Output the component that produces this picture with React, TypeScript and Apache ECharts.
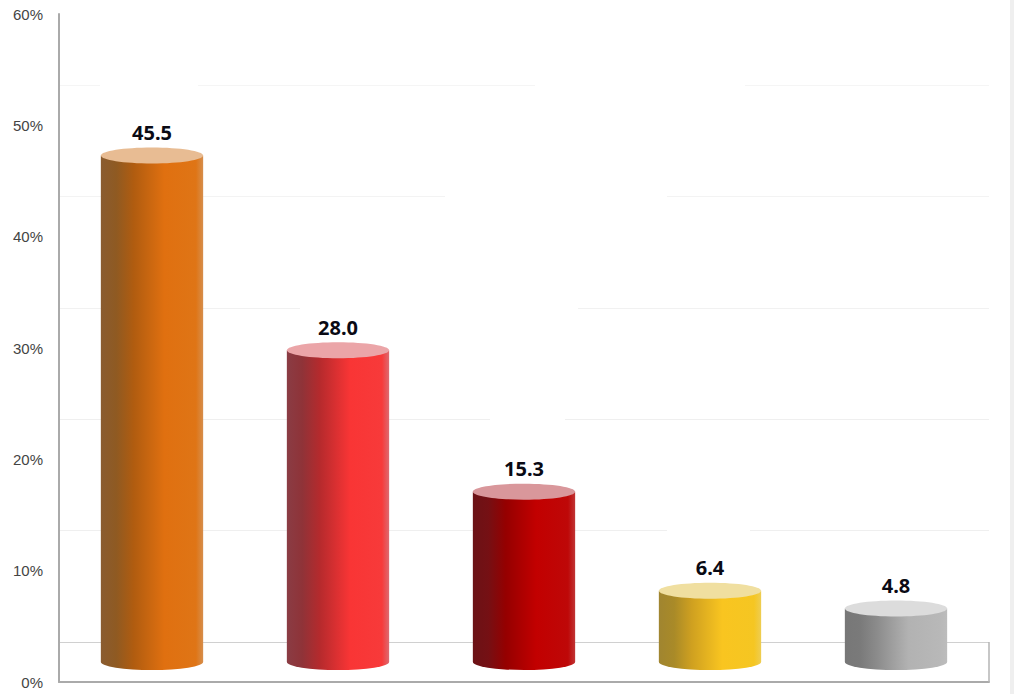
import React, { useEffect, useRef } from "react";
import * as echarts from "echarts";

const categories = ["Category 1", "Category 2", "Category 3", "Category 4", "Category 5"];
const values = [45.5, 28.0, 15.3, 6.4, 4.8];
const valueLabels = ["45.5", "28.0", "15.3", "6.4", "4.8"];
const sideStops = [
  ["#8a5c30", "#8f5a22", "#b05c10", "#e07010", "#df7516", "#d68e4c"],
  ["#8a3c44", "#8f3338", "#b52a2d", "#f93535", "#f73a3a", "#dd6a70"],
  ["#6b1216", "#751014", "#950000", "#c20000", "#be0808", "#c03434"],
  ["#a08530", "#a98a28", "#cfa020", "#f9c520", "#f5c622", "#eecd52"],
  ["#777777", "#7a7a7a", "#8c8c8c", "#b2b2b2", "#b8b8b8", "#bcbcbc"],
];
const capColors = ["#e8bc93", "#eba5a8", "#d9979b", "#f0dfa0", "#dcdcdc"];
const stopOffsets = [0, 0.15, 0.32, 0.62, 0.93, 1];
const gridGaps = [
  [100, 80, 98, 10],
  [535, 80, 210, 10],
  [445, 191, 222, 10],
  [300, 303, 278, 10],
  [490, 414, 75, 10],
  [667, 525, 83, 10],
];

export default function App() {
  const ref = useRef<HTMLDivElement>(null);
  useEffect(() => {
    document.body.style.margin = "0";
    document.body.style.background = "#fff";
    const chart = echarts.init(ref.current!, undefined, { renderer: "svg" });
    const hiddenX = (gridIndex: number, show = false) => ({
      type: "category" as const,
      gridIndex,
      data: categories,
      boundaryGap: true,
      axisTick: { show: false },
      axisLabel: { show: false },
      axisLine: { show, onZero: false, lineStyle: { color: "#aaaaaa", width: 2 } },
      splitLine: { show: false },
    });
    chart.setOption({
      animation: false,
      backgroundColor: "#ffffff",
      grid: [
        { left: 59, right: 25, top: 14, bottom: 12 },
        { left: 59, right: 25, top: 85.33, bottom: 52 },
        { left: 59, right: 25, top: 105.33, bottom: 32 },
      ],
      xAxis: [hiddenX(0, true), hiddenX(1), hiddenX(2)],
      yAxis: [
        {
          type: "value",
          gridIndex: 0,
          min: 0,
          max: 60,
          interval: 10,
          axisLine: { show: true, lineStyle: { color: "#aaaaaa", width: 2 } },
          axisTick: { show: false },
          splitLine: { show: false },
          axisLabel: {
            formatter: "{value}%",
            margin: 16,
            color: "#444444",
            fontFamily: "Liberation Sans",
            fontSize: 15,
          },
        },
        {
          type: "value",
          gridIndex: 1,
          min: 0,
          max: 50,
          interval: 10,
          axisLine: { show: false },
          axisTick: { show: false },
          axisLabel: { show: false },
          splitLine: {
            show: true,
            lineStyle: { color: ["#d0d0d0", "#efefef", "#efefef", "#f1f1f1", "#f3f3f3", "#f5f5f5"], width: 1 },
          },
        },
        {
          type: "value",
          gridIndex: 2,
          min: 0,
          max: 50,
          interval: 10,
          axisLine: { show: false },
          axisTick: { show: false },
          axisLabel: { show: false },
          splitLine: { show: false },
        },
      ],
      graphic: {
        elements: [
          ...gridGaps.map(([x, y, width, height]) => ({
            type: "rect",
            z: 1,
            shape: { x, y, width, height },
            style: { fill: "#ffffff" },
          })),
          {
            type: "line",
            z: 1,
            shape: { x1: 989, y1: 642, x2: 989, y2: 682 },
            style: { stroke: "#b4b4b4", lineWidth: 1.5 },
          },
          {
            type: "rect",
            z: 1,
            shape: { x: 1010, y: 0, width: 4, height: 694 },
            style: { fill: "#efefef" },
          },
        ],
      },
      series: [
        {
          type: "custom",
          xAxisIndex: 2,
          yAxisIndex: 2,
          z: 5,
          clip: false,
          data: values.map((v, i) => [i, v]),
          renderItem: (params: any, api: any) => {
            const i = params.dataIndex;
            const top = api.coord([api.value(0), api.value(1)]);
            const base = api.coord([api.value(0), 0]);
            const w = api.size([1, 0])[0] * 0.55;
            const rx = w / 2;
            const ry = 8;
            const x0 = top[0] - rx;
            const x1 = top[0] + rx;
            const gradient = new echarts.graphic.LinearGradient(
              0,
              0,
              1,
              0,
              sideStops[i].map((color, k) => ({ offset: stopOffsets[k], color }))
            );
            const d =
              `M${x0} ${top[1]}L${x1} ${top[1]}L${x1} ${base[1]}` +
              `A${rx} ${ry} 0 0 1 ${x0} ${base[1]}Z`;
            return {
              type: "group",
              children: [
                { type: "path", shape: { pathData: d, x: x0, y: top[1], width: w, height: base[1] - top[1] + ry, layout: "cover" }, style: { fill: gradient } },
                { type: "ellipse", shape: { cx: top[0], cy: top[1], rx, ry }, style: { fill: capColors[i] } },
                {
                  type: "text",
                  style: {
                    text: valueLabels[i],
                    x: top[0],
                    y: top[1] - 23,
                    align: "center",
                    verticalAlign: "middle",
                    fill: "#0a0a14",
                    font: "bold 20px 'Noto Sans'",
                  },
                },
              ],
            };
          },
        },
      ],
    });
    return () => chart.dispose();
  }, []);
  return <div ref={ref} style={{ width: 1014, height: 694 }} />;
}
